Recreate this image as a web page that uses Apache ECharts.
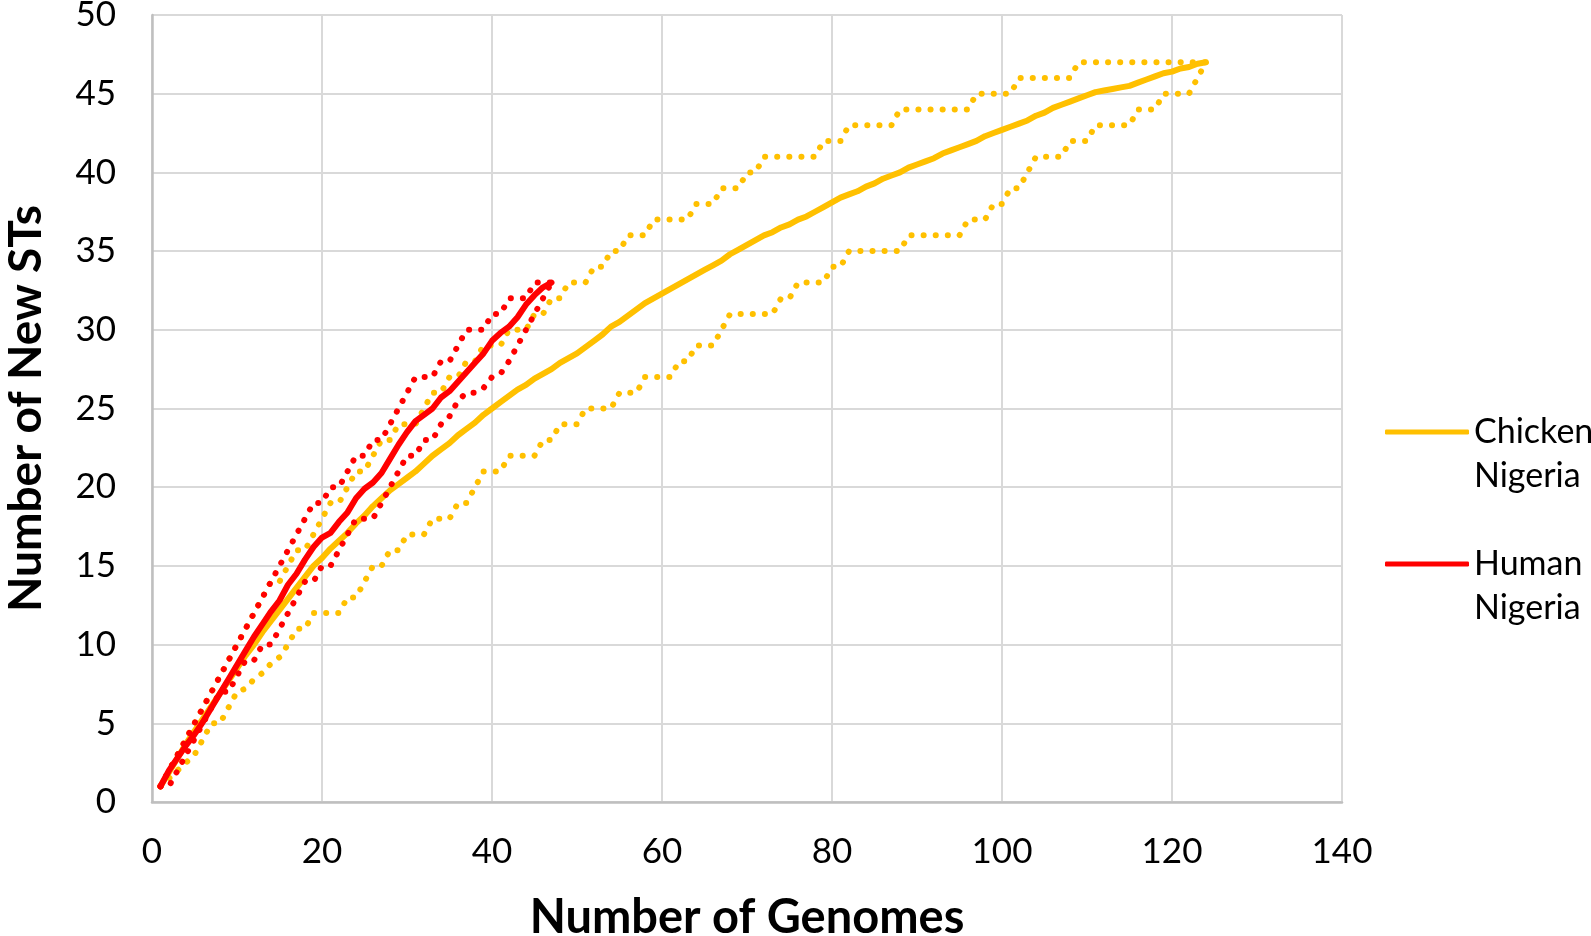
<!DOCTYPE html>
<html>
<head>
<meta charset="utf-8">
<script src="https://cdn.jsdelivr.net/npm/echarts@6/dist/echarts.min.js"></script>
<style>
html,body{margin:0;padding:0;background:#fff;}
#chart{width:1591px;height:936px;}
</style>
</head>
<body>
<div id="chart"></div>
<script>
// ---- data (number of new STs vs number of genomes, x = 1..N) ----
const chickenMean = [1, 1.9, 2.8, 3.7, 4.5, 5.3, 6.1, 6.9, 7.7, 8.5,
  9.3, 10.0, 10.8, 11.5, 12.2, 12.9, 13.6, 14.3, 15.0, 15.5,
  16.1, 16.6, 17.1, 17.7, 18.2, 18.8, 19.3, 19.8, 20.2, 20.6,
  21.0, 21.5, 22.0, 22.4, 22.8, 23.3, 23.7, 24.1, 24.6, 25.0,
  25.4, 25.8, 26.2, 26.5, 26.9, 27.2, 27.5, 27.9, 28.2, 28.5,
  28.9, 29.3, 29.7, 30.2, 30.5, 30.9, 31.3, 31.7, 32.0, 32.3,
  32.6, 32.9, 33.2, 33.5, 33.8, 34.1, 34.4, 34.8, 35.1, 35.4,
  35.7, 36.0, 36.2, 36.5, 36.7, 37.0, 37.2, 37.5, 37.8, 38.1,
  38.4, 38.6, 38.8, 39.1, 39.3, 39.6, 39.8, 40.0, 40.3, 40.5,
  40.7, 40.9, 41.2, 41.4, 41.6, 41.8, 42.0, 42.3, 42.5, 42.7,
  42.9, 43.1, 43.3, 43.6, 43.8, 44.1, 44.3, 44.5, 44.7, 44.9,
  45.1, 45.2, 45.3, 45.4, 45.5, 45.7, 45.9, 46.1, 46.3, 46.4,
  46.6, 46.7, 46.9, 47];
const chickenUpper = [1, 2, 3, 4, 5, 6, 7, 8, 9, 10,
  11, 12, 13, 14, 14, 15, 16, 16, 17, 18,
  19, 19, 20, 21, 21, 22, 23, 23, 24, 24,
  24, 25, 26, 26, 27, 27, 28, 28, 29, 29,
  29, 30, 30, 30, 31, 31, 32, 32, 33, 33,
  33, 34, 34, 35, 35, 36, 36, 36, 37, 37,
  37, 37, 37, 38, 38, 38, 39, 39, 39, 40,
  40, 41, 41, 41, 41, 41, 41, 41, 42, 42,
  42, 43, 43, 43, 43, 43, 43, 44, 44, 44,
  44, 44, 44, 44, 44, 44, 45, 45, 45, 45,
  45, 46, 46, 46, 46, 46, 46, 46, 47, 47,
  47, 47, 47, 47, 47, 47, 47, 47, 47, 47,
  47, 47, 47, 47];
const chickenLower = [1, 1.5, 2, 2.5, 3, 4, 5, 5, 6, 7,
  7.2, 7.8, 8.2, 8.8, 9.2, 10, 11, 11, 12, 12,
  12, 12, 13, 13, 14, 15, 15, 16, 16, 17,
  17, 17, 18, 18, 18, 19, 19, 20, 21, 21,
  21, 22, 22, 22, 22, 23, 23, 24, 24, 24,
  25, 25, 25, 25, 26, 26, 26, 27, 27, 27,
  27, 28, 28, 29, 29, 29, 30, 31, 31, 31,
  31, 31, 31, 32, 32, 33, 33, 33, 33, 34,
  34, 35, 35, 35, 35, 35, 35, 35, 36, 36,
  36, 36, 36, 36, 36, 37, 37, 37, 38, 38,
  39, 39, 40, 41, 41, 41, 41, 42, 42, 42,
  43, 43, 43, 43, 43, 44, 44, 44, 45, 45,
  45, 45, 46, 47];
const humanMean = [1, 2.0, 2.8, 3.6, 4.3, 5.1, 6.0, 6.9, 7.8, 8.7,
  9.6, 10.5, 11.3, 12.1, 12.8, 13.8, 14.5, 15.4, 16.2, 16.8,
  17.1, 17.8, 18.4, 19.3, 19.9, 20.3, 20.9, 21.8, 22.7, 23.5,
  24.2, 24.6, 25.0, 25.7, 26.1, 26.7, 27.3, 27.9, 28.5, 29.3,
  29.8, 30.2, 30.8, 31.6, 32.2, 32.7, 33];
const humanUpper = [1, 2, 3, 4, 5, 6, 7, 8, 9, 10,
  11, 12, 13, 14, 15, 16, 17, 18, 19, 19,
  20, 20, 21, 22, 22, 23, 23, 24, 25, 26,
  27, 27, 27, 28, 28, 29, 30, 30, 30, 31,
  31, 32, 32, 32, 33, 33, 33];
const humanLower = [1, 1, 2, 3, 4, 5, 6, 7, 7, 8,
  9, 9, 10, 10, 11, 12, 13, 14, 14, 15,
  15, 16, 17, 18, 18, 18, 19, 20, 21, 22,
  22, 23, 23, 24, 24.5, 25.5, 26, 26, 26.3, 27,
  27.2, 28, 29, 30, 31, 32, 33];
const xTicks = [0, 20, 40, 60, 80, 100, 120, 140];
const yTicks = [0, 5, 10, 15, 20, 25, 30, 35, 40, 45, 50];
const seriesNames = ['Chicken Nigeria', 'Human Nigeria'];
const xTitle = 'Number of Genomes';
const yTitle = 'Number of New STs';

// ---- chart ----
const YELLOW = '#FFC000', RED = '#FF0000';
const FONT = 'Lato, "Open Sans", sans-serif';
const toXY = arr => arr.map((v, i) => [i + 1, v]);

function solid(name, data, color) {
  return { name, type: 'line', data: toXY(data), showSymbol: false, symbol: 'none',
    lineStyle: { color, width: 6, cap: 'round', join: 'round' },
    itemStyle: { color }, silent: true, animation: false };
}
function dotted(name, data, color) {
  return { name, type: 'line', data: toXY(data), showSymbol: false, symbol: 'none',
    lineStyle: { color, width: 6, type: [0.1, 12], cap: 'round', join: 'round' },
    itemStyle: { color }, silent: true, animation: false };
}

const chart = echarts.init(document.getElementById('chart'), null, { renderer: 'canvas' });
chart.setOption({
  backgroundColor: '#ffffff',
  animation: false,
  textStyle: { fontFamily: FONT },
  grid: { left: 152, right: 249, top: 15, bottom: 134, containLabel: false, outerBoundsMode: 'none' },
  xAxis: {
    type: 'value', min: xTicks[0], max: xTicks[xTicks.length - 1], interval: xTicks[1] - xTicks[0],
    name: xTitle, nameLocation: 'middle', nameGap: 92,
    nameTextStyle: { fontFamily: FONT, fontSize: 47, fontWeight: 'bold', color: '#000' },
    axisLine: { show: true, lineStyle: { color: '#BFBFBF', width: 2.5 } },
    axisTick: { show: false },
    axisLabel: { fontFamily: FONT, fontSize: 35, color: '#000', margin: 32 },
    splitLine: { show: true, lineStyle: { color: '#D9D9D9', width: 2 } }
  },
  yAxis: {
    type: 'value', min: yTicks[0], max: yTicks[yTicks.length - 1], interval: yTicks[1] - yTicks[0],
    name: yTitle, nameLocation: 'middle', nameGap: 103, nameRotate: 90,
    nameTextStyle: { fontFamily: FONT, fontSize: 46, fontWeight: 'bold', color: '#000' },
    axisLine: { show: true, lineStyle: { color: '#BFBFBF', width: 2.5 } },
    axisTick: { show: false },
    axisLabel: { fontFamily: FONT, fontSize: 35, color: '#000', margin: 36 },
    splitLine: { show: true, lineStyle: { color: '#D9D9D9', width: 2 } }
  },
  legend: {
    data: seriesNames,
    orient: 'vertical', left: 1385, top: 366, padding: 0, itemGap: 0,
    icon: 'roundRect', itemWidth: 84, itemHeight: 5,
    formatter: n => '\n' + n.replace(' ', '\n'),
    textStyle: { fontFamily: FONT, fontSize: 34, color: '#000', lineHeight: 44 }
  },
  series: [
    dotted('Chicken upper', chickenUpper, YELLOW),
    dotted('Chicken lower', chickenLower, YELLOW),
    solid(seriesNames[0], chickenMean, YELLOW),
    dotted('Human upper', humanUpper, RED),
    dotted('Human lower', humanLower, RED),
    solid(seriesNames[1], humanMean, RED)
  ]
});
</script>
</body>
</html>
